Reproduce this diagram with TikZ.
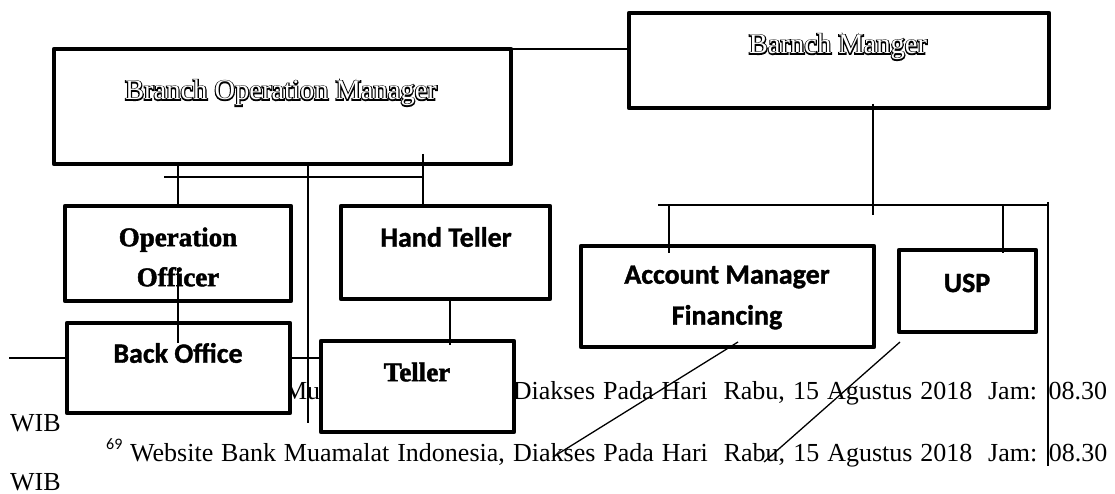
\documentclass[tikz,border=0pt]{standalone}
\usepackage{fontspec}
\setmainfont{Liberation Serif}
\newfontfamily\calibri{Carlito Bold}[FakeBold=1.2]
\newfontfamily\calibrireg{Carlito}
\newfontfamily\heavyserif{Liberation Serif Bold}[FakeBold=1.8]
\newfontfamily\hollowbold{Liberation Serif}[FakeBold=8]
\newcommand\hollow[1]{\makebox[0pt]{\hollowbold #1}\makebox[0pt]{\color{white}#1}}
\tikzstyle{orgbox}=[rectangle,draw=black,fill=white,line width=4.5pt,line join=round,inner sep=0pt,outer sep=0pt]
\tikzstyle{olabel}=[inner sep=0pt,font=\fontsize{28.5}{34}\selectfont]
\tikzstyle{slabel}=[inner sep=0pt,align=center,font=\fontsize{27}{40}\selectfont\heavyserif]
\tikzstyle{clabel}=[inner sep=0pt,align=center,font=\fontsize{28}{41}\selectfont\calibri]
\tikzstyle{foot}=[inner sep=0pt,anchor=base west,font=\fontsize{26}{31}\selectfont]
\tikzstyle{link}=[line width=1.3pt]
\tikzstyle{thicklink}=[line width=2.7pt]

\begin{document}
\begin{tikzpicture}[x=1pt,y=-1pt]
\useasboundingbox (0,0) rectangle (1115,494);
% footnotes under the chart
\node[foot] (fn1) at (130,399) {\makebox[977pt][s]{\phantom{Website} \phantom{Bank} Mu\phantom{amalat} \phantom{Indonesia,} Diakses Pada Hari\ \ Rabu, 15 Agustus 2018\ \ Jam: 08.30}};
\node[foot] (wib1) at (10,431) {WIB};
\node[foot,font=\fontsize{16}{18}\selectfont\calibrireg] (fnmark) at (106,449) {69};
\node[foot] (fn2) at (130,461) {\makebox[977pt][s]{Website Bank Muamalat Indonesia, Diakses Pada Hari\ \ Rabu, 15 Agustus 2018\ \ Jam: 08.30}};
\node[foot] (wib2) at (10,490) {WIB};
% boxes
\node[orgbox,minimum width=457pt,minimum height=115pt] (bom) at (282.5,106.5) {};
\node[orgbox,minimum width=420pt,minimum height=95pt] (bm) at (839,60.5) {};
\node[orgbox,minimum width=226pt,minimum height=95pt] (oo) at (178,253.5) {};
\node[orgbox,minimum width=209pt,minimum height=93pt] (ht) at (445.5,252.5) {};
\node[orgbox,minimum width=223pt,minimum height=90pt] (bo) at (178.5,368) {};
\node[orgbox,minimum width=193pt,minimum height=91pt] (tel) at (417.5,386.5) {};
\node[orgbox,minimum width=293pt,minimum height=101pt] (amf) at (727.5,296.5) {};
\node[orgbox,minimum width=137pt,minimum height=82pt] (usp) at (967.5,291) {};
\node[olabel] (bomtxt) at (281,93) {\hollow{Branch Operation Manager}};
\node[olabel] (bmtxt) at (838,47) {\hollow{Barnch Manger}};
\node[slabel] (ootxt) at (178,257) {Operation\\Officer};
\node[clabel] (httxt) at (446,237) {Hand Teller};
\node[clabel] (botxt) at (178,353) {Back Office};
\node[slabel] (teltxt) at (417,372) {Teller};
\node[clabel] (amftxt) at (727,297.5) {Account Manager\\Financing};
\node[clabel] (usptxt) at (967,283) {USP};
% free ends of the lines
\coordinate (lbusL) at (164,177); \coordinate (lbusR) at (423,177);
\coordinate (httap) at (423,154); \coordinate (drop) at (308,423);
\coordinate (oomid) at (178,268); \coordinate (boin) at (9,358);
\coordinate (telin) at (450,345);
\coordinate (bmtap) at (873,104); \coordinate (bmend) at (873,215);
\coordinate (rbusL) at (658,205); \coordinate (rbusR) at (1049,205);
\coordinate (amfin) at (669,253); \coordinate (uspin) at (1003,253);
\coordinate (rtop) at (1048,202); \coordinate (rend) at (1048,466);
\coordinate (amfout) at (738,342); \coordinate (amfend) at (553,457);
\coordinate (uspout) at (900,342); \coordinate (uspend) at (764,462);
% lines
\draw[link](bom.north east)--(bom.north east -| bm.west);
\draw[link](lbusL)--(lbusR);\draw[link](bom.south west -| oo.north)--(oo.north);\draw[link](oomid)--(oomid |- botxt.north);
\draw[link](bom.south -| drop)--(drop);\draw[link](httap)--(httap |- ht.north);\draw[link](telin |- ht.south)--(telin);
\draw[thicklink](boin)--(boin -| bo.west);\draw[thicklink](boin -| bo.east)--(boin -| tel.west);
\draw[link](bmtap)--(bmend);\draw[link](rbusL)--(rbusR);
\draw[link](amfin |- rbusL)--(amfin);\draw[link](uspin |- rbusL)--(uspin);\draw[link](rtop)--(rend);
\draw[link](amfout)--(amfend);\draw[link](uspout)--(uspend);
\end{tikzpicture}
\end{document}
